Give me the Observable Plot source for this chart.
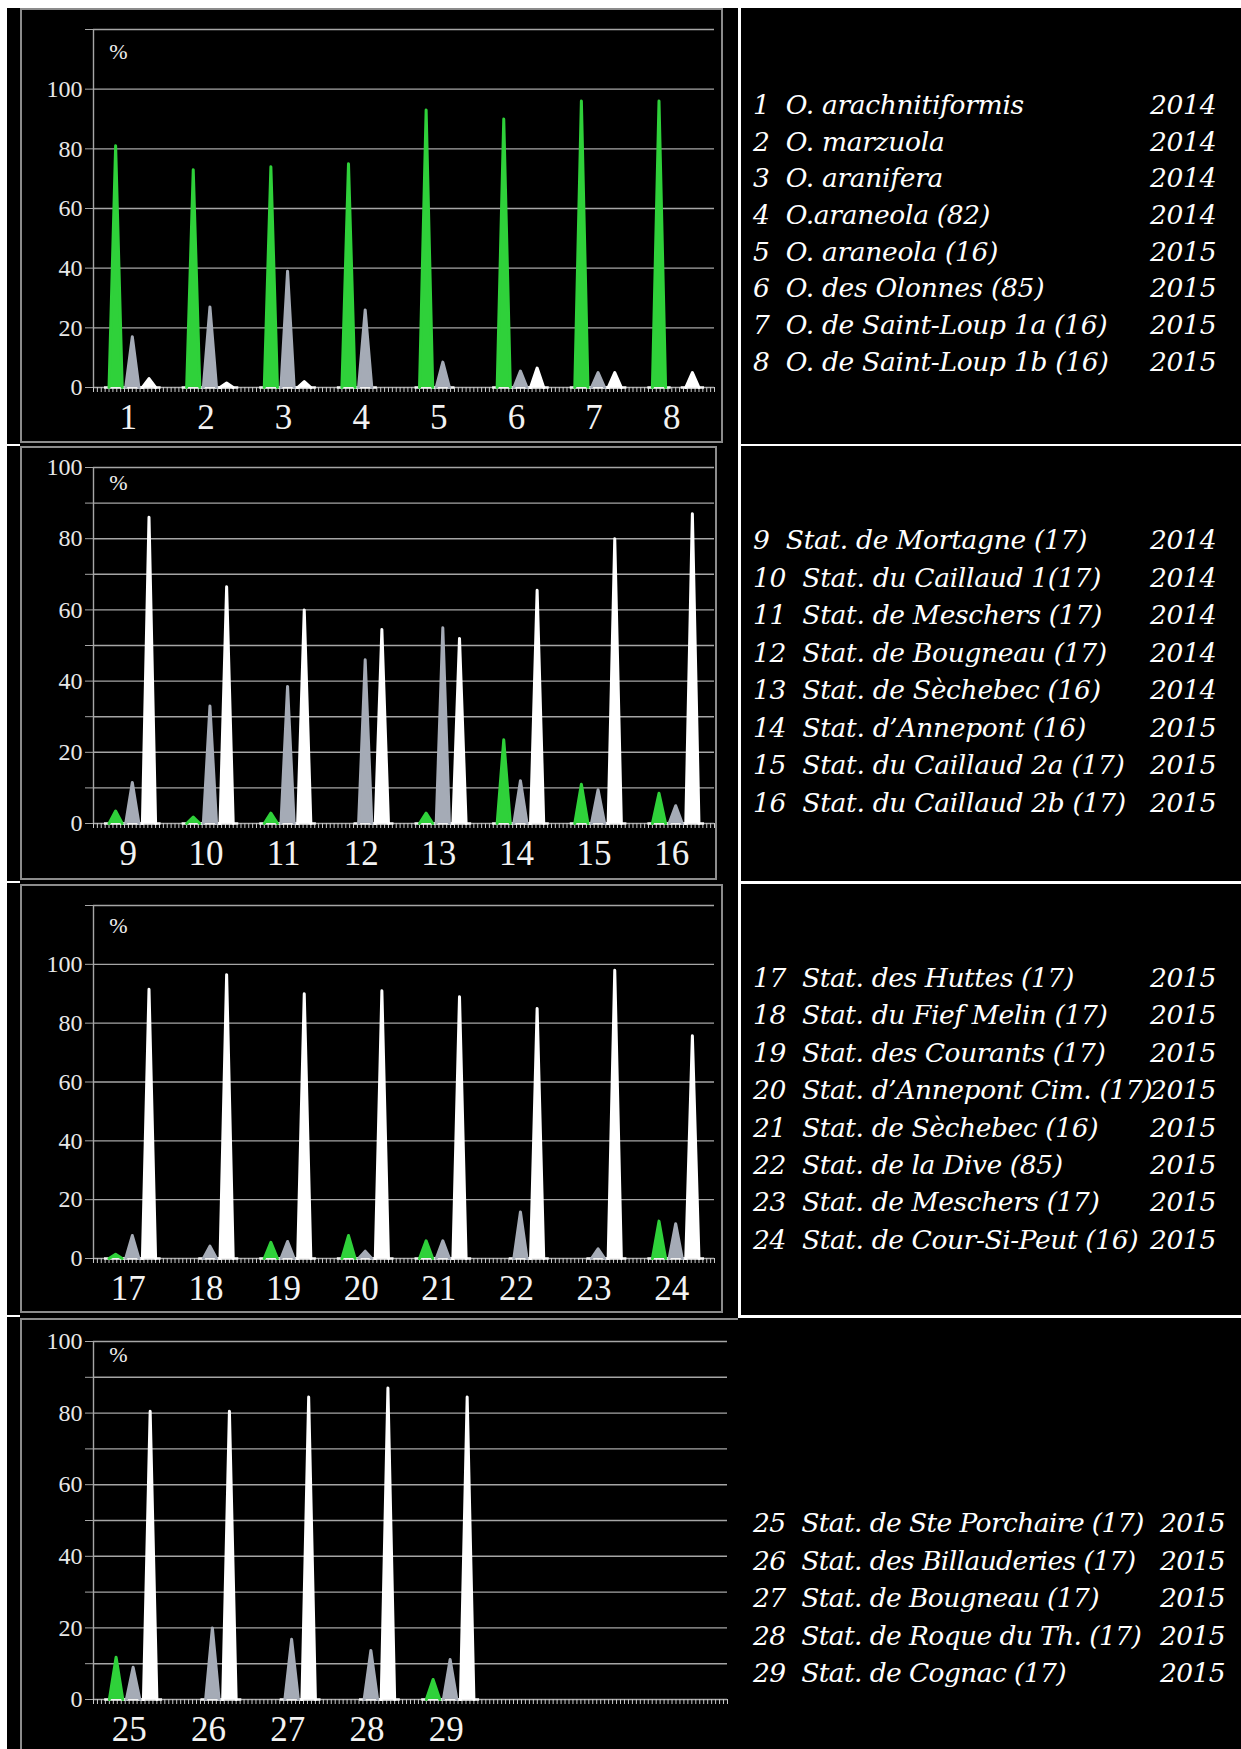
<!DOCTYPE html>
<html><head><meta charset="utf-8">
<script src="https://cdn.jsdelivr.net/npm/d3@7"></script>
<script src="https://cdn.jsdelivr.net/npm/@observablehq/plot@0.6"></script>
<style>
html,body{margin:0;padding:0;background:#fff;}
body{width:1241px;height:1749px;position:relative;overflow:hidden;}
#page{position:absolute;left:7px;top:8px;right:0;bottom:0;background:#000;}
.box{position:absolute;}
.frame{position:absolute;box-sizing:border-box;border:2px solid #8c8c8c;pointer-events:none;}
.wl{position:absolute;background:#fff;}
.legend{position:absolute;left:753px;color:#fff;font-family:"DejaVu Serif",serif;font-style:italic;font-size:26.5px;white-space:pre;letter-spacing:-0.3px;}
.legend .row{position:relative;height:var(--lh);line-height:var(--lh);}
.legend .yr{position:absolute;top:0;}
</style></head><body>
<div id="page"></div>
<script>
// ---------- data ----------
const labels1 = ["1","2","3","4","5","6","7","8"];
const green1  = [81, 73, 74, 75, 93, 90, 96, 96];
const grey1   = [17, 27, 39, 26, 8.5, 5.5, 5, 0];
const white1  = [3, 1.5, 2, 0, 0, 6.5, 5, 5];

const labels2 = ["9","10","11","12","13","14","15","16"];
const green2  = [3.5, 1.8, 2.9, 0, 2.9, 23.5, 11, 8.5];
const grey2   = [11.5, 33, 38.5, 46, 55, 12, 9.5, 5];
const white2  = [86, 66.5, 60, 54.5, 52, 65.5, 80, 87];

const labels3 = ["17","18","19","20","21","22","23","24"];
const green3  = [1.4, 0, 5.5, 7.8, 6, 0, 0, 12.7];
const grey3   = [7.8, 4.2, 5.8, 2.5, 6, 15.8, 3.3, 11.8];
const white3  = [91.5, 96.5, 90, 91, 89, 85, 98, 75.7];

const labels4 = ["25","26","27","28","29"];
const green4  = [11.8, 0, 0, 0, 5.6];
const grey4   = [9, 20, 16.8, 13.7, 11.2];
const white4  = [80.5, 80.5, 84.5, 87, 84.5];

const names1 = ["1  O. arachnitiformis","2  O. marzuola","3  O. aranifera","4  O.araneola (82)","5  O. araneola (16)","6  O. des Olonnes (85)","7  O. de Saint-Loup 1a (16)","8  O. de Saint-Loup 1b (16)"];
const years1 = ["2014","2014","2014","2014","2015","2015","2015","2015"];
const names2 = ["9  Stat. de Mortagne (17)","10  Stat. du Caillaud 1(17)","11  Stat. de Meschers (17)","12  Stat. de Bougneau (17)","13  Stat. de Sèchebec (16)","14  Stat. d’Annepont (16)","15  Stat. du Caillaud 2a (17)","16  Stat. du Caillaud 2b (17)"];
const years2 = ["2014","2014","2014","2014","2014","2015","2015","2015"];
const names3 = ["17  Stat. des Huttes (17)","18  Stat. du Fief Melin (17)","19  Stat. des Courants (17)","20  Stat. d’Annepont Cim. (17)","21  Stat. de Sèchebec (16)","22  Stat. de la Dive (85)","23  Stat. de Meschers (17)","24  Stat. de Cour-Si-Peut (16)"];
const years3 = ["2015","2015","2015","2015","2015","2015","2015","2015"];
const names4 = ["25  Stat. de Ste Porchaire (17)","26  Stat. des Billauderies (17)","27  Stat. de Bougneau (17)","28  Stat. de Roque du Th. (17)","29  Stat. de Cognac (17)"];
const years4 = ["2015","2015","2015","2015","2015"];

const yTicks120 = [0, 20, 40, 60, 80, 100, 120];
const yTicks100 = [0, 10, 20, 30, 40, 50, 60, 70, 80, 90, 100];
const yLabels   = [0, 20, 40, 60, 80, 100];
const seriesColors = {green: "#2fd13a", grey: "#a5abb6", white: "#ffffff"};

// ---------- layout ----------
const panels = [
  {labels: labels1, green: green1, grey: grey1, white: white1, names: names1, years: years1,
   top: 8, height: 435, width: 703, mt: 21, mb: 56, mr: 9, ymax: 120, ticks: yTicks120, pctDy: 14,
   legTop: 87, lh: 36.7, yrLeft: 1150, frameW: 703, frameSides: "all", ls: -0.3},
  {labels: labels2, green: green2, grey: grey2, white: white2, names: names2, years: years2,
   top: 446, height: 434, width: 697, mt: 21, mb: 57, mr: 3, ymax: 100, ticks: yTicks100, pctDy: 7,
   legTop: 521, lh: 37.5, yrLeft: 1150, frameW: 697, frameSides: "all", ls: -0.3},
  {labels: labels3, green: green3, grey: grey3, white: white3, names: names3, years: years3,
   top: 884, height: 429, width: 703, mt: 21, mb: 55, mr: 9, ymax: 120, ticks: yTicks120, pctDy: 12,
   legTop: 959, lh: 37.4, yrLeft: 1150, frameW: 703, frameSides: "all", ls: -0.4},
  {labels: labels4, green: green4, grey: grey4, white: white4, names: names4, years: years4,
   top: 1318, height: 431, width: 718, mt: 23, mb: 50, mr: 11, ymax: 100, ticks: yTicks100, pctDy: 5,
   legTop: 1504, lh: 37.5, yrLeft: 1160, frameW: 718, frameSides: "tl", ls: -0.6}
];

const OFF = 0.215, HW = 0.085, BASE = 0.15;
const XDOM = [0.5, 8.5];

function build(p) {
  const pts = [], bases = [];
  p.labels.forEach((lab, i) => {
    const c = i + 1;
    [["green", p.green[i], -OFF], ["grey", p.grey[i], 0], ["white", p.white[i], OFF]].forEach(([s, v, o]) => {
      if (!(v > 0)) return;
      const id = lab + "-" + s, x = c + o;
      pts.push({id, s, x: x - HW, y: 0}, {id, s, x, y: v}, {id, s, x: x + HW, y: 0});
      bases.push({x1: x - BASE, x2: x + BASE});
    });
  });
  const lblData = p.labels.map((l, i) => ({x: i + 1, l}));
  return Plot.plot({
    width: p.width, height: p.height,
    marginLeft: 73, marginRight: p.mr, marginTop: p.mt, marginBottom: p.mb,
    style: {background: "#000", color: "#e8e8e8", fontFamily: "Liberation Serif, serif", overflow: "visible"},
    x: {domain: XDOM},
    y: {domain: [0, p.ymax]},
    marks: [
      Plot.gridY(p.ticks, {stroke: "#a6a6a6", strokeOpacity: 1, strokeWidth: 1.4}),
      Plot.axisY(p.ticks, {label: null, tickSize: 8, tickFormat: () => "", stroke: "#a6a6a6"}),
      Plot.text(yLabels, {x: XDOM[0], y: d => d, text: d => String(d), dx: -11, textAnchor: "end", fontSize: 24, fill: "#e8e8e8"}),
      Plot.ruleX([XDOM[0]], {y1: 0, y2: p.ymax, stroke: "#a6a6a6", strokeWidth: 1.4}),
      Plot.axisX({ticks: 230, tickSize: 5, tickFormat: () => "", label: null, stroke: "#c9c9c9", strokeWidth: 1}),
      Plot.link(bases, {x1: "x1", x2: "x2", y1: 0, y2: 0, stroke: "#f2f2f2", strokeWidth: 2.5}),
      Plot.areaY(pts, {x: "x", y: "y", z: "id", fill: d => seriesColors[d.s], fillOpacity: 1, curve: "linear"}),
      Plot.line(pts, {x: "x", y: "y", z: "id", stroke: d => seriesColors[d.s], strokeWidth: 3, strokeLinejoin: "round", curve: "linear"}),
      Plot.text(lblData, {x: "x", y: 0, text: "l", dy: 30, dx: -4, fontSize: 35, fill: "#f2f2f2"}),
      Plot.text(["%"], {frameAnchor: "top-left", dx: 25, dy: p.pctDy, fontSize: 22, fill: "#eeeeee", textAnchor: "middle"})
    ]
  });
}

function addDiv(cls, css) {
  const d = document.createElement("div");
  d.className = cls;
  Object.assign(d.style, css);
  document.body.appendChild(d);
  return d;
}

panels.forEach(p => {
  const box = addDiv("box", {left: "20px", top: p.top + "px", width: p.width + "px", height: p.height + "px"});
  box.appendChild(build(p));
  const f = addDiv("frame", {left: "20px", top: p.top + "px", width: p.frameW + "px", height: p.height + "px"});
  if (p.frameSides === "tl") { f.style.borderRight = "none"; f.style.borderBottom = "none"; }
  const leg = addDiv("legend", {top: p.legTop + "px", letterSpacing: p.ls + "px"});
  leg.style.setProperty("--lh", p.lh + "px");
  p.names.forEach((n, i) => {
    const r = document.createElement("div");
    r.className = "row";
    const a = document.createElement("span"); a.textContent = n;
    const b = document.createElement("span"); b.className = "yr"; b.textContent = p.years[i];
    b.style.left = (p.yrLeft - 753) + "px";
    r.appendChild(a); r.appendChild(b); leg.appendChild(r);
  });
});

// separators
addDiv("wl", {left: "738px", top: "8px", width: "2.5px", height: "1310px"});
[443.5, 881, 1315].forEach(y => {
  addDiv("wl", {left: "740px", top: y + "px", width: "501px", height: "2.5px"});
  addDiv("wl", {left: "7px", top: y + "px", width: "13px", height: "2px"});
});
</script>
</body></html>
